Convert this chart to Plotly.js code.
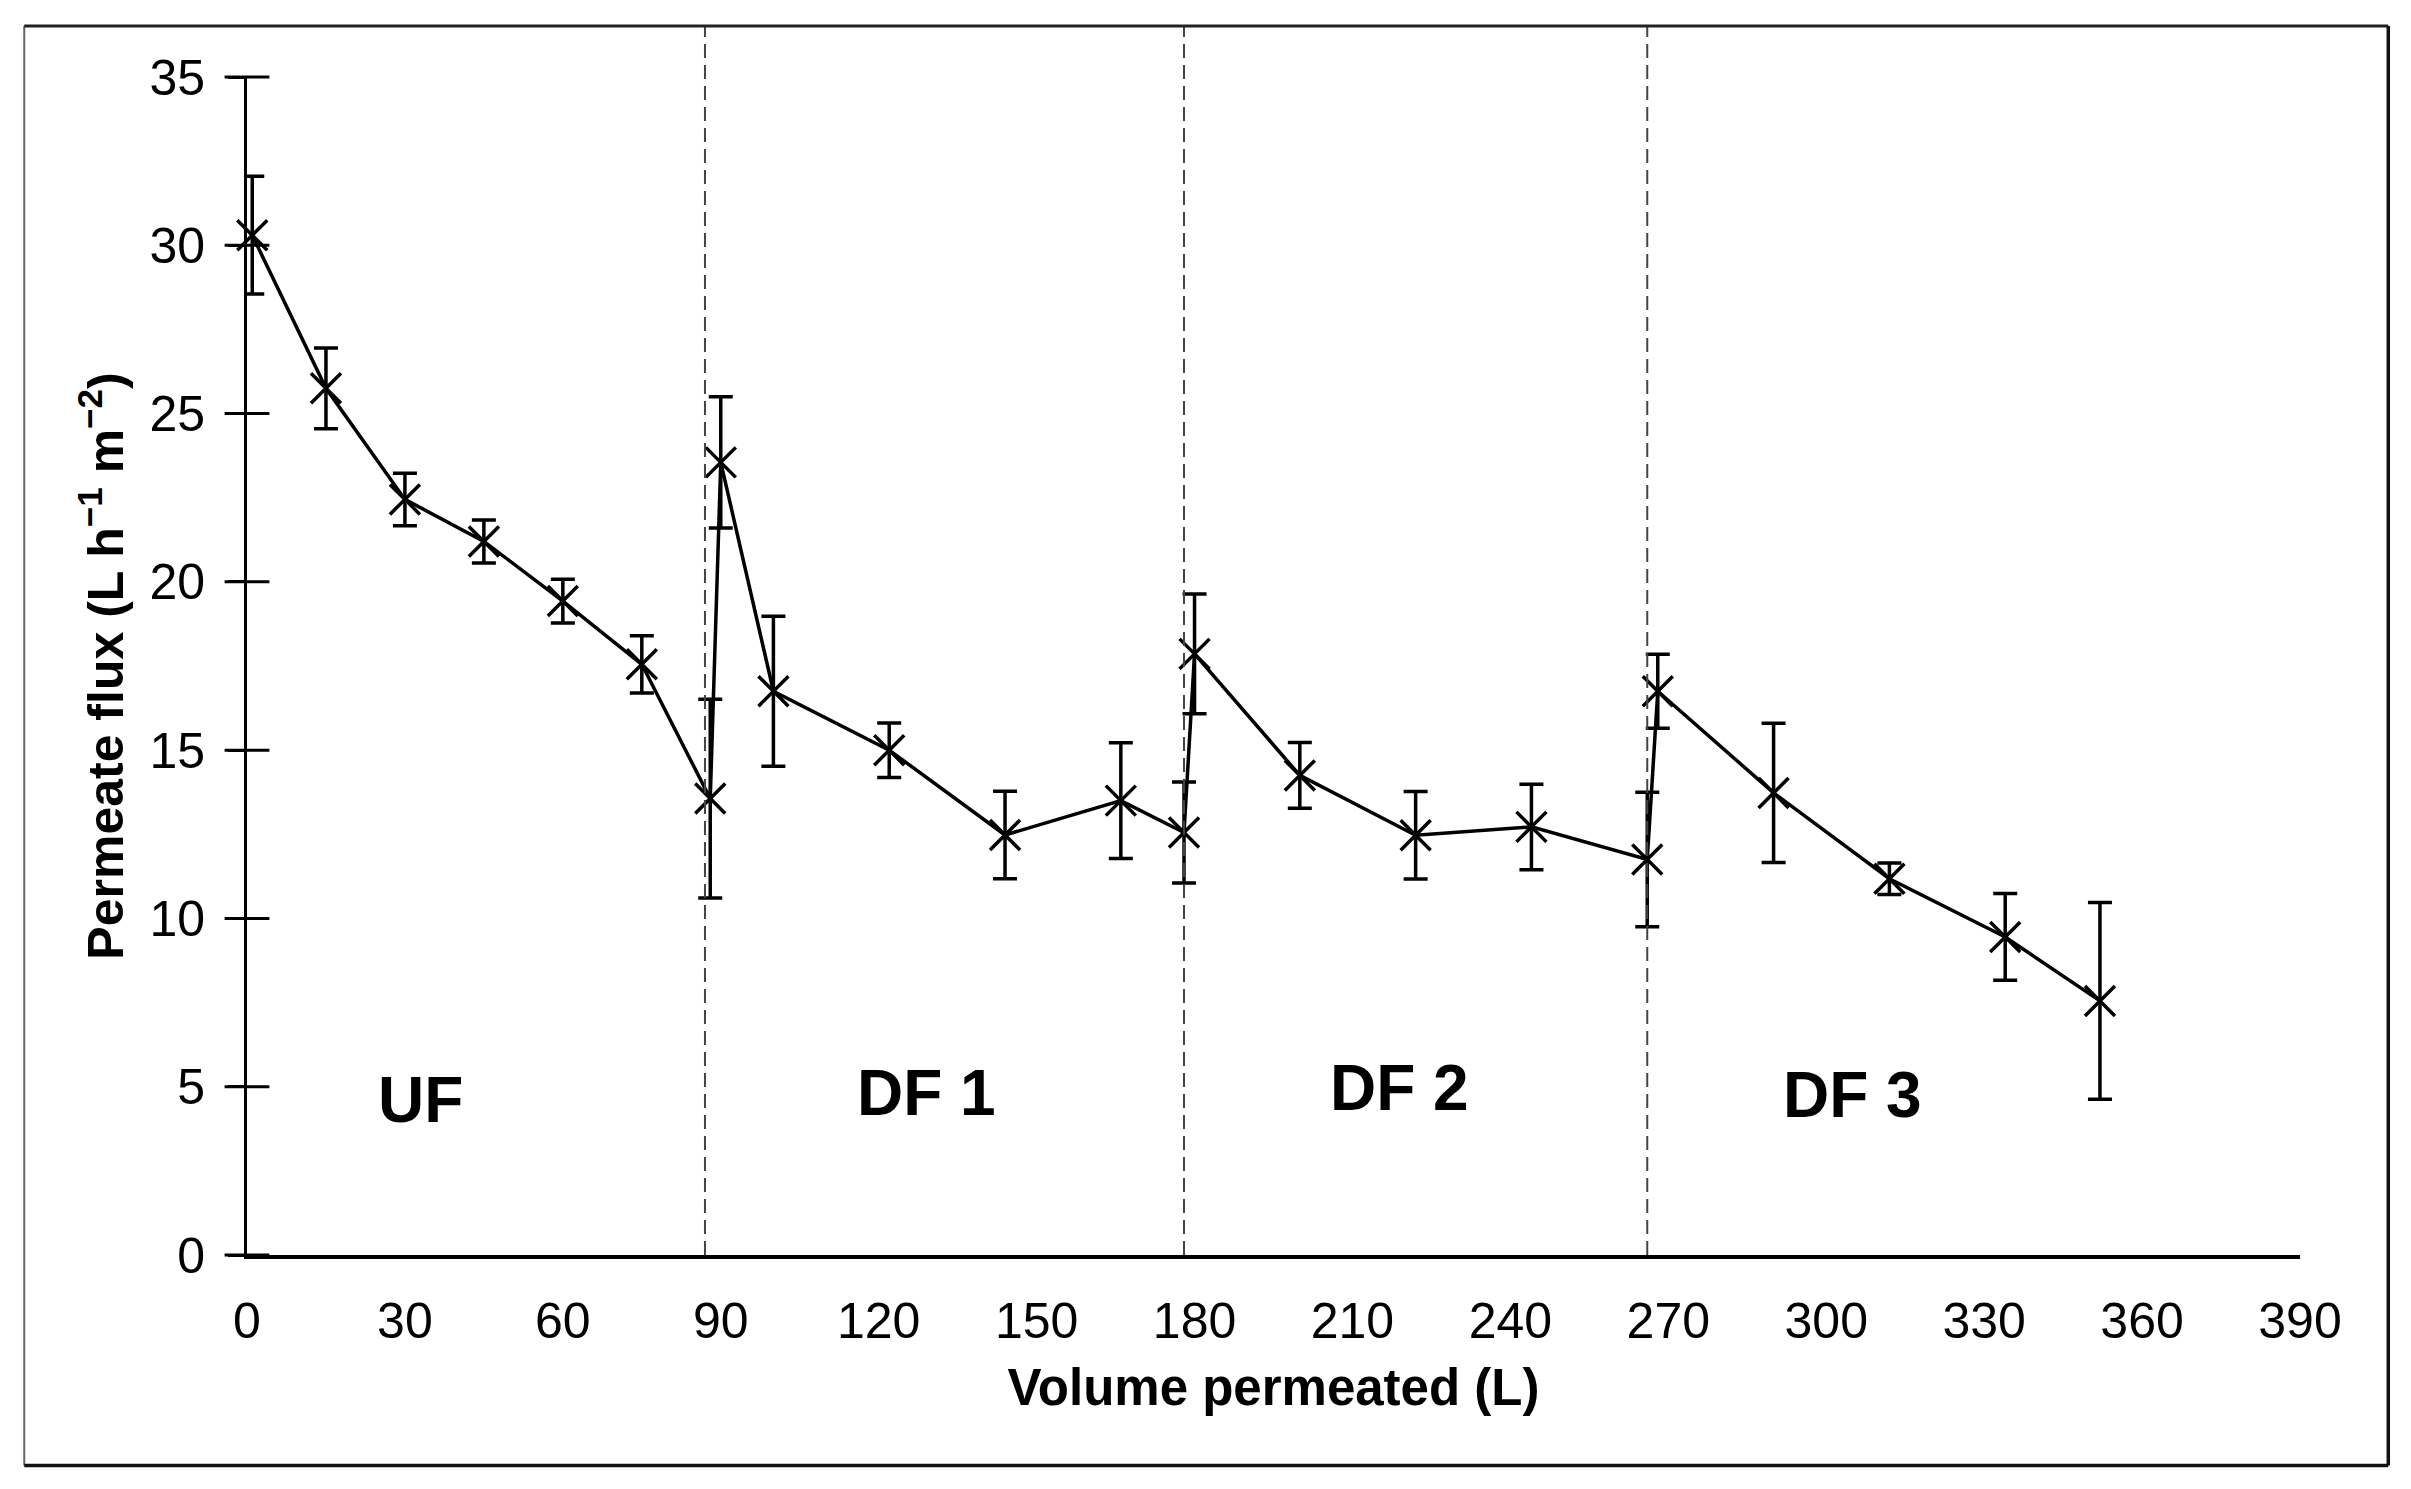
<!DOCTYPE html>
<html>
<head>
<meta charset="utf-8">
<script src="https://cdn.plot.ly/plotly-3.0.1.min.js"></script>
<style>
html, body { margin: 0; padding: 0; background: #fff; }
#chart { width: 2411px; height: 1489px; }
</style>
</head>
<body>
<div id="chart"></div>
<script>
// Data
const volume = [1, 15, 30, 45, 60, 75, 88, 90, 100, 122, 144, 166, 178, 180, 200, 222, 244, 266, 268, 290, 312, 334, 352];
const flux = [30.3, 25.75, 22.45, 21.2, 19.43, 17.55, 13.56, 23.55, 16.75, 15.0, 12.48, 13.5, 12.55, 17.86, 14.25, 12.47, 12.72, 11.75, 16.75, 13.73, 11.18, 9.45, 7.55];
const fluxErr = [1.75, 1.2, 0.78, 0.64, 0.65, 0.85, 2.95, 1.95, 2.23, 0.81, 1.3, 1.72, 1.5, 1.78, 0.98, 1.3, 1.27, 2.0, 1.1, 2.07, 0.47, 1.29, 2.92];
const phaseBoundaries = [87, 178, 266];
const phaseLabels = ['UF', 'DF 1', 'DF 2', 'DF 3'];
const xTicks = [0, 30, 60, 90, 120, 150, 180, 210, 240, 270, 300, 330, 360, 390];
const yTicks = [0, 5, 10, 15, 20, 25, 30, 35];

const labelPos = [[33, 4.6], [129, 4.8], [219, 4.95], [305, 4.75]];

const FONT = 'Liberation Sans, Arial, Helvetica, sans-serif';

const trace = {
  x: volume,
  y: flux,
  type: 'scatter',
  mode: 'lines+markers',
  line: { color: '#000', width: 3.5 },
  marker: { symbol: 'x-thin', size: 30, color: '#000', line: { color: '#000', width: 3.5 } },
  error_y: { type: 'data', array: fluxErr, visible: true, color: '#000', thickness: 3.5, width: 12 },
  cliponaxis: false,
  showlegend: false,
  hoverinfo: 'x+y'
};

// crossing tick marks on the y axis, placed at the y tick values
const crossTicks = {
  x: yTicks.map(() => 0), y: yTicks, type: 'scatter', mode: 'markers',
  marker: { symbol: 'line-ew', size: 32, color: '#000', line: { color: '#000', width: 3 } },
  cliponaxis: false, showlegend: false, hoverinfo: 'skip'
};

const shapes = phaseBoundaries.map(b => ({
  type: 'line', xref: 'x', yref: 'paper', x0: b, x1: b, y0: 0, y1: 1.0432,
  line: { color: '#444', width: 2, dash: '14px,7px' }
}));
// outer frame
shapes.push({ type: 'line', xref: 'paper', yref: 'paper', x0: -0.1085, x1: -0.1085, y0: -0.1786, y1: 1.0432, line: { color: '#666', width: 2 } });
shapes.push({ type: 'line', xref: 'paper', yref: 'paper', x0: -0.1085, x1: 1.043, y0: 1.0432, y1: 1.0432, line: { color: '#222', width: 3 } });
shapes.push({ type: 'line', xref: 'paper', yref: 'paper', x0: 1.043, x1: 1.043, y0: -0.1786, y1: 1.0432, line: { color: '#111', width: 3.5 } });
shapes.push({ type: 'line', xref: 'paper', yref: 'paper', x0: -0.1085, x1: 1.043, y0: -0.1786, y1: -0.1786, line: { color: '#111', width: 3.5 } });

const annotations = phaseLabels.map((t, i) => ({
  x: labelPos[i][0], y: labelPos[i][1], xref: 'x', yref: 'y', text: t, showarrow: false,
  font: { family: FONT, size: 64, color: '#000', weight: 'bold' }, xanchor: 'center', yanchor: 'middle'
}));

const layout = {
  width: 2411, height: 1489,
  margin: { l: 246.8, r: 111.3, t: 76.9, b: 234.3, pad: 0 },
  paper_bgcolor: '#fff', plot_bgcolor: '#fff',
  font: { family: FONT, color: '#000' },
  showlegend: false,
  xaxis: {
    range: [0, 390], tickvals: xTicks, ticktext: xTicks.map(String),
    showgrid: false, zeroline: false, showline: true, linecolor: '#000', linewidth: 4,
    ticks: '', ticklabelstandoff: 19,
    tickfont: { family: FONT, size: 50, color: '#000' },
    title: { text: 'Volume permeated (L)', font: { family: FONT, size: 51, color: '#000', weight: 'bold' }, standoff: 22 }
  },
  yaxis: {
    range: [0, 35], tickvals: yTicks, ticktext: yTicks.map(String),
    showgrid: false, zeroline: false, showline: true, linecolor: '#000', linewidth: 3,
    ticks: 'outside', ticklen: 16, tickwidth: 3, tickcolor: '#000', ticklabelstandoff: 13,
    tickfont: { family: FONT, size: 50, color: '#000' },
    title: { text: 'Permeate flux (L h<sup>−1</sup> m<sup>−2</sup>)', font: { family: FONT, size: 50, color: '#000', weight: 'bold' }, standoff: 10 }
  },
  shapes: shapes,
  annotations: annotations
};

Plotly.newPlot('chart', [crossTicks, trace], layout, { displayModeBar: false, staticPlot: true });
</script>
</body>
</html>
